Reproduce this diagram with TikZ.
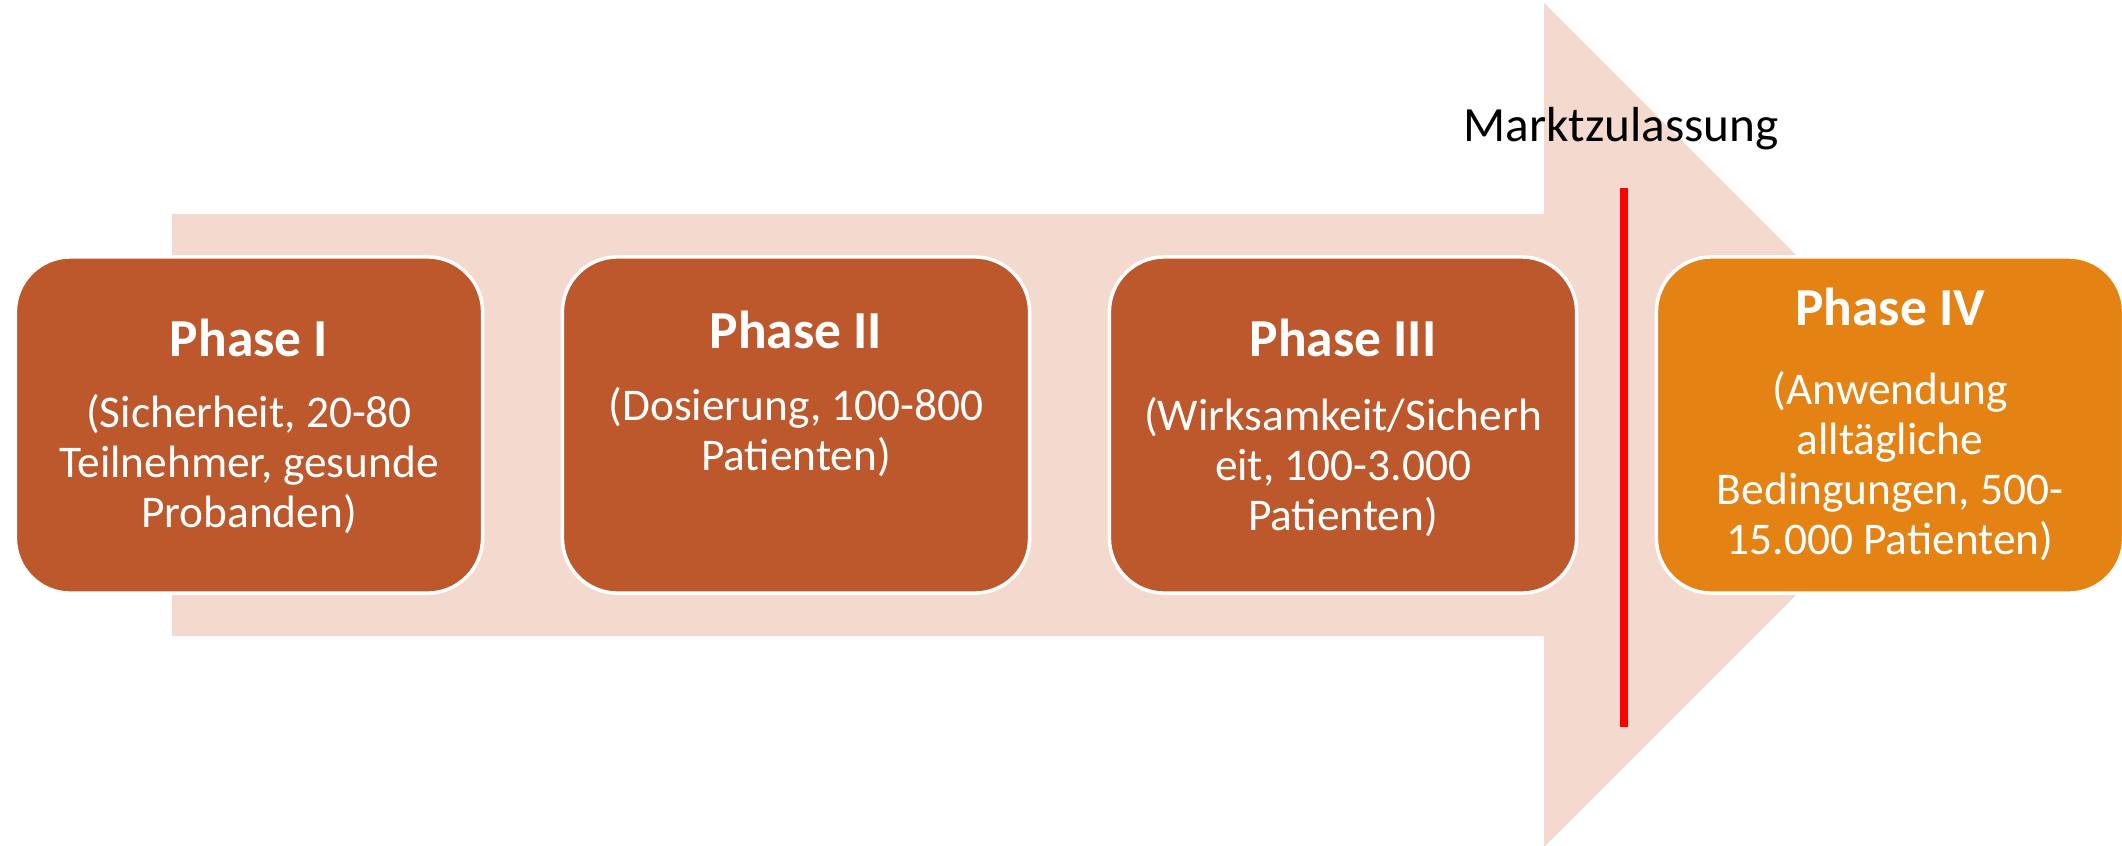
\documentclass[tikz,border=0pt]{standalone}
\usepackage{fontspec}
\setmainfont{Carlito}
\definecolor{arrowpeach}{RGB}{244,217,206}
\definecolor{phasebrown}{RGB}{189,88,44}
\definecolor{phaseorange}{RGB}{228,131,20}
\begin{document}
\begin{tikzpicture}[x=0.01cm,y=-0.01cm,
	phasebox/.style={draw=white,line width=1pt,rounded corners=0.55cm,
		minimum width=4.67cm,minimum height=3.36cm,inner sep=0pt},
	phasehead/.style={text=white,font=\fontsize{15.2}{18}\bfseries\selectfont},
	phasetext/.style={text=white,align=center,font=\fontsize{12.9}{14.2}\selectfont}]
\clip (0,0) rectangle (2122,845);
%\draw[gray,help lines] (0,0) grid[step=100] (2122,845);
\pgfmathsetmacro{\dx}{547} % Abstand der Phasen
% grosser Pfeil
\fill[arrowpeach] (172,214) -- (1544,214) -- (1544,3) -- (1966,425)
	-- (1544,847) -- (1544,636) -- (172,636) -- cycle;
\node[phasebox,fill=phasebrown] (P1) at (249,425) {};
\node[phasebox,fill=phasebrown] (P2) at (249+\dx,425) {};
\node[phasebox,fill=phasebrown] (P3) at (249+2*\dx,425) {};
\node[phasebox,fill=phaseorange] (P4) at (249+3*\dx,425) {};
\node[phasehead] (H1) at (249,338) {Phase I};
\node[phasetext] (T1) at (249,464) {(Sicherheit, 20-80\\Teilnehmer, gesunde\\Probanden)};
\node[phasehead] (H2) at (249+\dx,330) {Phase II};
\node[phasetext] (T2) at (249+\dx,432) {(Dosierung, 100-800\\Patienten)};
\node[phasehead] (H3) at (249+2*\dx,338) {Phase III};
\node[phasetext] (T3) at (249+2*\dx,467) {(Wirksamkeit/Sicherh\\eit, 100-3.000\\Patienten)};
\node[phasehead] (H4) at (249+3*\dx,307) {Phase IV};
\node[phasetext] (T4) at (249+3*\dx,466) {(Anwendung\\alltägliche\\Bedingungen, 500-\\15.000 Patienten)};
% Marktzulassung
\coordinate (M1) at (1624,188);
\coordinate (M2) at (1624,727);
\draw[red,line width=2.3pt] (M1) -- (M2);
\node[font=\fontsize{14}{17}\selectfont] (MZ) at (1621,129) {Marktzulassung};
\end{tikzpicture}
\end{document}
